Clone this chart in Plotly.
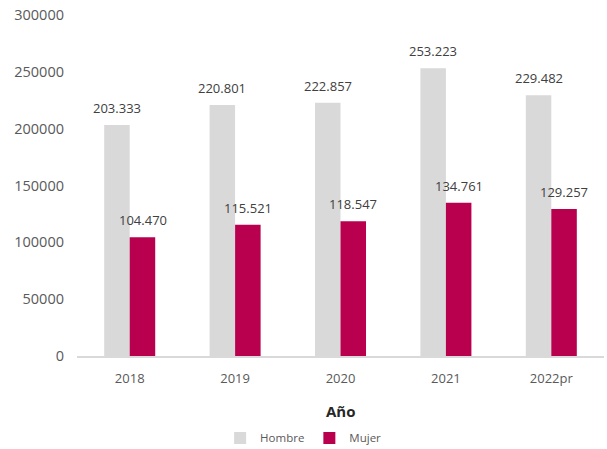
import plotly.graph_objects as go

years = ["2018", "2019", "2020", "2021", "2022pr"]
hombre = [203333, 220801, 222857, 253223, 229482]
mujer = [104470, 115521, 118547, 134761, 129257]
y_ticks = [0, 50000, 100000, 150000, 200000, 250000, 300000]

C_H = "#D9D9D9"
C_M = "#B8004E"
TXT = "#595959"
FONT = "Open Sans"
FS = 13

def es(v):
    return f"{v:,}".replace(",", ".")

fig = go.Figure()
fig.add_trace(go.Bar(x=years, y=hombre, name="Hombre", marker_color=C_H, marker_line_width=0))
fig.add_trace(go.Bar(x=years, y=mujer, name="Mujer", marker_color=C_M, marker_line_width=0))

ann = []
for i, yr in enumerate(years):
    for vals, sh in ((hombre, -12.8), (mujer, 12.8)):
        ann.append(dict(x=i, y=vals[i], xref="x", yref="y", text=es(vals[i]),
                        showarrow=False, xshift=sh, yanchor="bottom", yshift=6,
                        font=dict(family=FONT, size=FS, color="#404040")))
ann.append(dict(x=0.5, y=-0.161, xref="paper", yref="paper", text="<b>Año</b>",
                showarrow=False, xanchor="center", yanchor="middle",
                font=dict(family=FONT, size=15, color="#262626")))

fig.update_layout(
    width=607, height=449,
    margin=dict(l=77, r=3, t=15, b=93, autoexpand=False),
    paper_bgcolor="white", plot_bgcolor="white",
    barmode="group", bargap=0.516, bargroupgap=0,
    font=dict(family=FONT, size=FS, color=TXT),
    showlegend=True,
    legend=dict(orientation="h", x=0.43, xanchor="center",
                yref="container", y=0.0245, yanchor="middle",
                font=dict(family=FONT, size=11.5, color=TXT), itemwidth=30,
                traceorder="normal"),
    annotations=ann,
)
fig.update_xaxes(type="category", categoryorder="array", categoryarray=years,
                 automargin=False,
                 showline=True, linecolor="#D9D9D9", linewidth=1.5,
                 showgrid=False, ticks="", ticklabelstandoff=10,
                 tickfont=dict(family=FONT, size=FS, color=TXT))
fig.update_yaxes(range=[0, 300000], tickvals=y_ticks, ticktext=[str(v) for v in y_ticks],
                 automargin=False,
                 showgrid=False, zeroline=False, showline=False, ticks="",
                 ticklabelstandoff=12, tickfont=dict(family=FONT, size=14.5, color=TXT))

fig.write_html("out.html", config={"displayModeBar": False},
               post_script="document.body.style.margin='0';document.body.style.overflow='hidden';")
